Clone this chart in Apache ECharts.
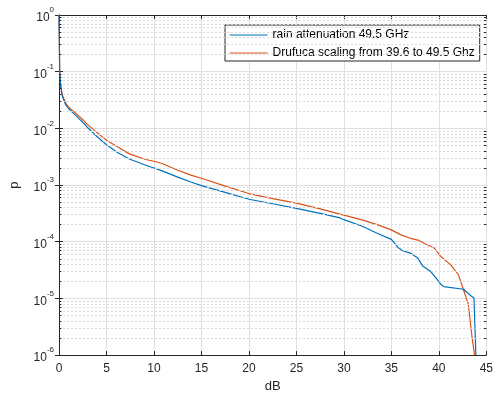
<!DOCTYPE html>
<html>
<head>
<meta charset="utf-8">
<script src="https://cdn.jsdelivr.net/npm/echarts@6/dist/echarts.min.js"></script>
<style>html,body{margin:0;padding:0;background:#fff}#c{width:496px;height:398px}</style>
</head>
<body>
<div id="c"></div>
<script>
const seriesNames = ['rain attenuation 49.5 GHz', 'Drufuca scaling from 39.6 to 49.5 Ghz'];
const blueX = [0,0.04,0.07,0.17,0.34,0.52,0.69,1.0,1.5,2.0,2.6,2.93,3.97,5,6.2,7.41,9.14,10,10.86,12.5,13.96,15,17.5,20,22.5,25,27.5,29.6,30,32,33.5,35,35.7,36.2,37,37.8,38.3,39.1,39.8,40.2,40.5,42.6,43.4,43.7,43.9];
const blueP = [1,0.316,0.1,0.0562,0.0372,0.0316,0.0263,0.0224,0.0186,0.0155,0.0123,0.0107,0.00724,0.00513,0.00372,0.00288,0.00224,0.00200,0.00178,0.00138,0.00112,0.000977,0.000741,0.000562,0.000468,0.000389,0.000316,0.000263,0.000245,0.000186,0.000141,0.000110,7.94e-5,6.92e-5,6.31e-5,5.13e-5,3.72e-5,3.02e-5,2.19e-5,1.78e-5,1.62e-5,1.45e-5,1.10e-5,1.02e-5,1e-6];
const orangeX = [0,0.04,0.07,0.17,0.34,0.52,0.69,1.0,1.5,2.0,2.6,2.93,3.97,5,6.2,7.41,9.14,10,10.86,12.5,13.96,15,17.5,20,22.5,25,27.5,30,32,33.5,35,36,37,37.8,38.5,39.5,40.2,41.2,42.06,42.7,43.1,43.3,43.5,43.7,43.75];
const orangeP = [1,0.316,0.1,0.0589,0.0389,0.0331,0.0282,0.0240,0.0200,0.0170,0.0138,0.0120,0.00851,0.00617,0.00468,0.00355,0.00282,0.00263,0.00240,0.00182,0.00148,0.00132,0.000955,0.000708,0.000575,0.000479,0.000380,0.000295,0.000240,0.000200,0.000162,0.000132,0.000115,0.000107,9.33e-5,7.76e-5,5.50e-5,3.98e-5,2.63e-5,1.26e-5,7.94e-6,4.07e-6,2.04e-6,1.20e-6,1e-6];
const xMin = 0, xMax = 45;
const decades = [-6,-5,-4,-3,-2,-1];
const minorMult = [2,3,4,5,6,7,8,9];

const minorVals = [];
decades.forEach(d => minorMult.forEach(m => minorVals.push(m * Math.pow(10, d))));
const minorGrid = minorVals.map(v => [{coord: [xMin, v]}, {coord: [xMax, v]}]);
const minorTicks = [];
minorVals.forEach(v => {
  minorTicks.push([{coord: [xMin, v]}, {coord: [xMin + 0.25, v]}]);
  minorTicks.push([{coord: [xMax - 0.25, v]}, {coord: [xMax, v]}]);
});

const axisCol = '#262626';
const font = 'Liberation Sans, Arial, sans-serif';
const chart = echarts.init(document.getElementById('c'), null, {renderer: 'canvas'});
chart.setOption({
  animation: false,
  backgroundColor: '#fff',
  textStyle: {fontFamily: font},
  grid: {left: 55, right: 6, top: 15, bottom: 40, containLabel: false},
  legend: {
    orient: 'vertical', left: 225, top: 25,
    backgroundColor: '#fff', borderColor: '#262626', borderWidth: 1, borderRadius: 0,
    padding: [4, 5, 2, 4], itemGap: 6, itemWidth: 38, itemHeight: 12,
    itemStyle: {opacity: 0},
    lineStyle: {width: 1.2},
    textStyle: {fontFamily: font, fontSize: 12, color: '#000'},
    data: seriesNames
  },
  xAxis: [{
    type: 'value', min: xMin, max: xMax, interval: 5,
    name: 'dB', nameLocation: 'middle', nameGap: 22,
    nameTextStyle: {fontSize: 13, color: axisCol, fontFamily: font},
    axisLine: {onZero: false, lineStyle: {color: axisCol}},
    axisTick: {inside: true, length: 4, lineStyle: {color: axisCol}},
    axisLabel: {fontSize: 12, color: axisCol, margin: 8, fontFamily: font},
    splitLine: {show: true, lineStyle: {color: '#e0e0e0', width: 1}}
  }, {
    type: 'value', position: 'top', min: xMin, max: xMax, interval: 5,
    axisLine: {onZero: false, lineStyle: {color: axisCol}},
    axisTick: {inside: true, length: 4, lineStyle: {color: axisCol}},
    axisLabel: {show: false}, splitLine: {show: false}
  }],
  yAxis: [{
    type: 'log', logBase: 10, min: 1e-6, max: 1,
    name: 'p', nameLocation: 'middle', nameGap: 38, nameRotate: 90,
    nameTextStyle: {fontSize: 13, color: axisCol, fontFamily: font},
    axisLine: {lineStyle: {color: axisCol}},
    axisTick: {inside: true, length: 4, lineStyle: {color: axisCol}},
    axisLabel: {
      margin: 5, color: axisCol,
      formatter: v => '{b|10}{s|' + Math.round(Math.log10(v)) + '}',
      rich: {
        b: {fontSize: 12, color: axisCol, fontFamily: font, padding: [6, 0, 0, 0]},
        s: {fontSize: 8, color: axisCol, fontFamily: font, verticalAlign: 'top', padding: [0, 0, 6, 0]}
      }
    },
    splitLine: {show: true, lineStyle: {color: '#e0e0e0', width: 1}}
  }, {
    type: 'log', logBase: 10, min: 1e-6, max: 1, position: 'right',
    axisLine: {show: true, lineStyle: {color: axisCol}},
    axisTick: {inside: true, length: 4, lineStyle: {color: axisCol}},
    axisLabel: {show: false}, splitLine: {show: false}
  }],
  series: [{
    name: 'minorGrid', type: 'line', data: [], silent: true, z: 1,
    markLine: {
      silent: true, symbol: ['none', 'none'], label: {show: false}, animation: false,
      lineStyle: {color: '#dadada', type: [2, 2], width: 1},
      data: minorGrid
    }
  }, {
    name: 'minorTicks', type: 'line', data: [], silent: true, z: 5,
    markLine: {
      silent: true, symbol: ['none', 'none'], label: {show: false}, animation: false,
      lineStyle: {color: axisCol, type: 'solid', width: 1},
      data: minorTicks
    }
  }, {
    name: seriesNames[0], type: 'line', showSymbol: false, symbol: 'none',
    lineStyle: {color: '#0072BD', width: 1.2}, itemStyle: {color: '#0072BD'},
    data: blueX.map((x, i) => [x, blueP[i]]), z: 3
  }, {
    name: seriesNames[1], type: 'line', showSymbol: false, symbol: 'none',
    lineStyle: {color: '#D95319', width: 1.2}, itemStyle: {color: '#D95319'},
    data: orangeX.map((x, i) => [x, orangeP[i]]), z: 2
  }]
});
</script>
</body>
</html>
